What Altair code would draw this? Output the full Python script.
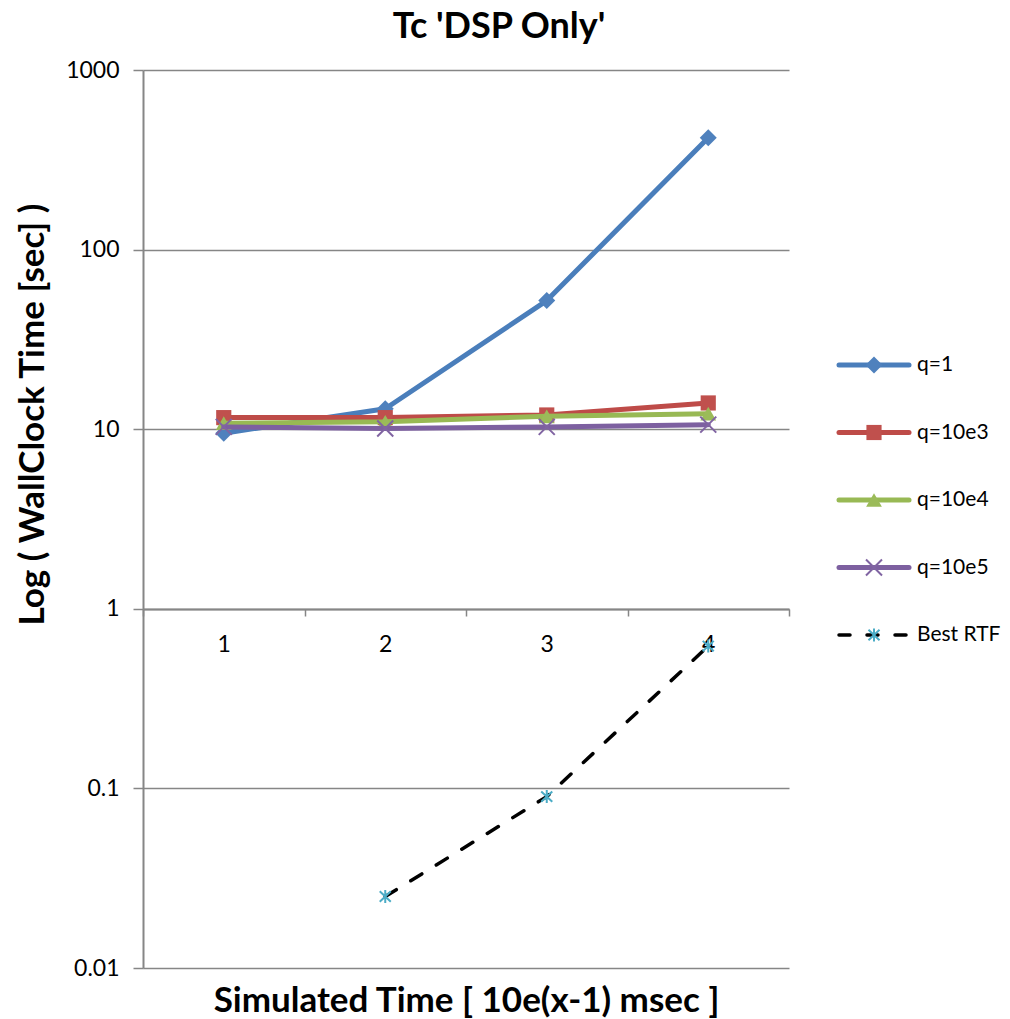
import altair as alt
import pandas as pd

# ---------------- data ----------------
x_cats = ["1", "2", "3", "4"]
series_names = ["q=1", "q=10e3", "q=10e4", "q=10e5", "Best RTF"]
q1 = [9.5, 13.0, 52.0, 420.0]
q10e3 = [11.6, 11.6, 12.0, 14.0]
q10e4 = [10.8, 11.0, 11.8, 12.2]
q10e5 = [10.3, 10.1, 10.3, 10.6]
rtf_x = ["2", "3", "4"]
rtf = [0.025, 0.09, 0.62]
y_ticks = [0.01, 0.1, 1, 10, 100, 1000]

rows = []
for name, vals in zip(series_names[:4], [q1, q10e3, q10e4, q10e5]):
    for xc, v in zip(x_cats, vals):
        rows.append({"series": name, "x": xc, "value": v})
for xc, v in zip(rtf_x, rtf):
    rows.append({"series": "Best RTF", "x": xc, "value": v})
df = pd.DataFrame(rows)
legend_df = pd.DataFrame({"series": series_names})

# ---------------- styles ----------------
FONT = "Lato"
GRAY = "#868686"
line_colors = ["#4A7EBB", "#BE4B48", "#98B954", "#7D60A0", "#000000"]
marker_colors = ["#4F81BD", "#C0504D", "#9BBB59", "#8064A2", "#4BACC6"]
X_PATH = "M-1,-1L1,1M-1,1L1,-1"
STAR_PATH = "M0,-1L0,1M-0.85,-0.8L0.85,0.8M-0.85,0.8L0.85,-0.8"
markers = [
    dict(shape="diamond", filled=True, size=289),
    dict(shape="square", filled=True, size=230),
    dict(shape="triangle-up", filled=True, size=250),
    dict(shape=X_PATH, filled=False, size=256, strokeWidth=2),
    dict(shape=STAR_PATH, filled=False, size=169, strokeWidth=2),
]

W, H = 646, 898

x_enc = alt.X(
    "x:N",
    scale=alt.Scale(type="band", domain=x_cats, paddingInner=0, paddingOuter=0),
    axis=alt.Axis(
        offset=-359,
        tickBand="extent",
        tickSize=7,
        tickColor=GRAY,
        tickWidth=1.5,
        domainColor=GRAY,
        domainWidth=2,
        labelAngle=0,
        labelFontSize=23,
        labelFont=FONT,
        labelColor="#000000",
        labelPadding=17,
        grid=False,
        title="Simulated Time [ 10e(x-1) msec ]",
        titleFont=FONT,
        titleFontSize=35,
        titleFontWeight="bold",
        titleColor="#000000",
        titleX=W / 2,
        titleY=391,
        titleAlign="center",
        titleBaseline="middle",
    ),
)
y_enc = alt.Y(
    "value:Q",
    scale=alt.Scale(type="log", domain=[0.01, 1000], nice=False),
    axis=alt.Axis(
        values=y_ticks,
        format="~g",
        tickSize=10,
        tickColor=GRAY,
        tickWidth=1.5,
        domainColor=GRAY,
        domainWidth=2,
        gridColor=GRAY,
        gridWidth=1.5,
        labelFontSize=23,
        labelFont=FONT,
        labelColor="#000000",
        labelPadding=14,
        title="Log ( WallClock Time [sec] )",
        titleFont=FONT,
        titleFontSize=35,
        titleFontWeight="bold",
        titleColor="#000000",
        titleAngle=270,
        titleX=-111,
        titleY=344,
        titleAlign="center",
        titleBaseline="middle",
    ),
)

base = alt.Chart(df)
main_layers = []
for i, name in enumerate(series_names):
    sub = base.transform_filter(alt.datum.series == name)
    if name == "Best RTF":
        line = sub.mark_line(color=line_colors[i], strokeWidth=3.5,
                             strokeDash=[13, 17], strokeCap="round")
    else:
        line = sub.mark_line(color=line_colors[i], strokeWidth=5,
                             strokeCap="round", strokeJoin="round")
    main_layers.append(line.encode(x=x_enc, y=y_enc))
    main_layers.append(
        sub.mark_point(color=marker_colors[i], opacity=1, **markers[i]).encode(x=x_enc, y=y_enc)
    )
main = alt.layer(*main_layers)

# ---------------- legend ----------------
leg_y = alt.Y(
    "series:N",
    scale=alt.Scale(type="point", domain=series_names, range=[295, 565], padding=0),
    axis=None,
)
lbase = alt.Chart(legend_df)
legend_layers = []
for i, name in enumerate(series_names):
    sub = lbase.transform_filter(alt.datum.series == name)
    if name == "Best RTF":
        rule = sub.mark_rule(color=line_colors[i], strokeWidth=3.5,
                             strokeDash=[11, 17], strokeCap="round")
    else:
        rule = sub.mark_rule(color=line_colors[i], strokeWidth=5, strokeCap="round")
    legend_layers.append(rule.encode(x=alt.value(696), x2=alt.value(766), y=leg_y))
    legend_layers.append(
        sub.mark_point(color=marker_colors[i], opacity=1, **markers[i]).encode(
            x=alt.value(731), y=leg_y)
    )
    legend_layers.append(
        sub.mark_text(align="left", baseline="middle", font=FONT, fontSize=21,
                      color="#000000").encode(x=alt.value(774), y=leg_y, text="series:N")
    )
legend = alt.layer(*legend_layers)

chart = (
    alt.layer(main, legend)
    .resolve_scale(y="independent")
    .properties(
        width=W,
        height=H,
        padding={"left": 143, "top": 70, "right": 221, "bottom": 51},
        autosize=alt.AutoSizeParams(type="none"),
        title=alt.TitleParams(
            "Tc 'DSP Only'",
            font=FONT,
            fontSize=36,
            fontWeight="bold",
            color="#000000",
            anchor="middle",
            dx=33,
            offset=13,
        ),
        background="#ffffff",
    )
    .configure_view(stroke=None)
)

chart.save("out.html", embed_options={"renderer": "svg", "actions": False})
